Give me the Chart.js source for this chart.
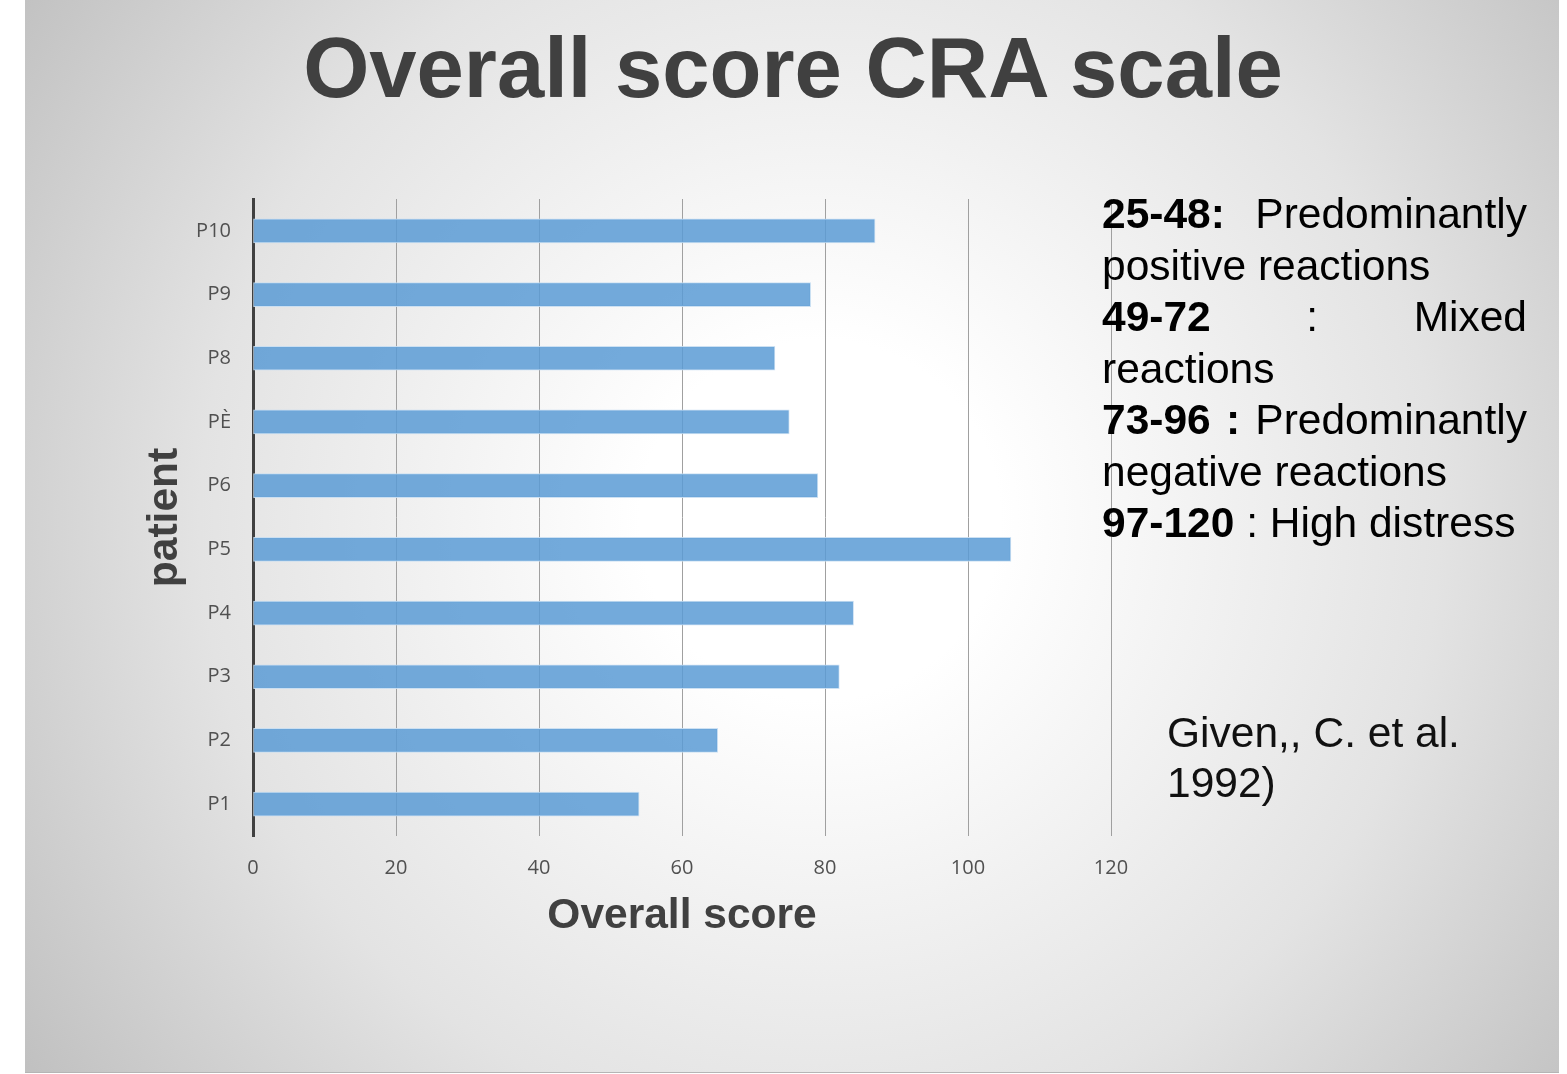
<!DOCTYPE html>
<html>
<head>
<meta charset="utf-8">
<script src="https://cdn.jsdelivr.net/npm/chart.js@4/dist/chart.umd.min.js"></script>
<style>
  html, body { margin: 0; padding: 0; background: #ffffff; }
  body { width: 1567px; height: 1074px; position: relative; overflow: hidden; }
  #slide {
    position: absolute; left: 25px; top: 0; width: 1534px; height: 1072px;
    background: radial-gradient(circle at 795px 520px, #ffffff 0px, #ffffff 180px, #e3e3e3 620px, #bdbdbd 1000px);
    border-bottom: 1px solid #b5b5b5;
  }
  #title {
    position: absolute; left: 0; width: 1586px; top: 18px; text-align: center;
    font-family: "Liberation Sans", Arial, sans-serif; font-weight: bold; font-size: 85px;
    color: #404040; line-height: 100px; white-space: nowrap;
  }
  #chartwrap { position: absolute; left: 0; top: 0; width: 1567px; height: 1074px; }
  #legendText {
    position: absolute; left: 1102px; top: 188px; width: 425px;
    font-family: "Liberation Sans", Arial, sans-serif; font-size: 42.5px; line-height: 51.5px; color: #000;
  }
  #legendText .j { text-align: justify; text-align-last: justify; white-space: nowrap; }
  #legendText div { white-space: nowrap; }
  #cite {
    position: absolute; left: 1167px; top: 708px;
    font-family: "Liberation Sans", Arial, sans-serif; font-size: 42.5px; line-height: 50px; color: #111;
  }
</style>
</head>
<body>
<div id="slide"></div>
<div id="chartwrap"><canvas id="c" width="1567" height="1074"></canvas></div>
<div id="title">Overall score CRA scale</div>
<div id="legendText">
  <div class="j"><b>25-48:</b> Predominantly</div>
  <div>positive reactions</div>
  <div class="j"><b>49-72</b> : Mixed</div>
  <div>reactions</div>
  <div class="j"><b>73-96 :</b> Predominantly</div>
  <div>negative reactions</div>
  <div><b>97-120</b> : High distress</div>
</div>
<div id="cite">Given,, C. et al.<br>1992)</div>
<script>
const categories = ['P1', 'P2', 'P3', 'P4', 'P5', 'P6', 'PÈ', 'P8', 'P9', 'P10'];
const scores = [54, 65, 82, 84, 106, 79, 75, 73, 78, 87];
const xTicks = [0, 20, 40, 60, 80, 100, 120];
const xAxisTitle = 'Overall score';
const yAxisTitle = 'patient';

const ctx = document.getElementById('c').getContext('2d');
new Chart(ctx, {
  type: 'bar',
  data: {
    labels: categories,
    datasets: [{
      label: 'Overall score',
      data: scores,
      backgroundColor: 'rgba(91,155,213,0.85)',
      borderColor: 'rgba(200,222,242,0.9)',
      borderWidth: 1,
      borderSkipped: false,
      barThickness: 24
    }]
  },
  options: {
    indexAxis: 'y',
    responsive: false,
    animation: false,
    events: [],
    layout: { padding: { left: 120, top: 199, right: 456, bottom: 118 } },
    plugins: { legend: { display: false }, tooltip: { enabled: false } },
    scales: {
      x: {
        type: 'linear',
        min: xTicks[0],
        max: xTicks[xTicks.length - 1],
        afterBuildTicks: (s) => { s.ticks = xTicks.map(v => ({ value: v })); },
        afterFit: (s) => { s.height = 120; },
        grid: { display: true, drawOnChartArea: true, drawTicks: false, color: '#a0a0a0', lineWidth: 1 },
        border: { display: false },
        ticks: { padding: 20, color: '#505050', font: { family: '"Open Sans", sans-serif', size: 20 } },
        title: {
          display: true, text: xAxisTitle, color: '#404040',
          font: { family: '"Liberation Sans", Arial, sans-serif', size: 42.5, weight: 'bold', lineHeight: 1.2 },
          padding: { top: 0, bottom: 14 }
        }
      },
      y: {
        type: 'category',
        reverse: true,
        afterFit: (s) => { s.width = 133; },
        grid: { display: true, drawOnChartArea: false, drawTicks: false },
        border: { display: true, color: '#404040', width: 3 },
        ticks: { padding: 22, color: '#505050', font: { family: '"Open Sans", sans-serif', size: 20 } },
        title: {
          display: true, text: yAxisTitle, color: '#404040',
          font: { family: '"Liberation Sans", Arial, sans-serif', size: 42.5, weight: 'bold', lineHeight: 1.2 },
          padding: { top: 20, bottom: 0 }
        }
      }
    }
  }
});
</script>
</body>
</html>
